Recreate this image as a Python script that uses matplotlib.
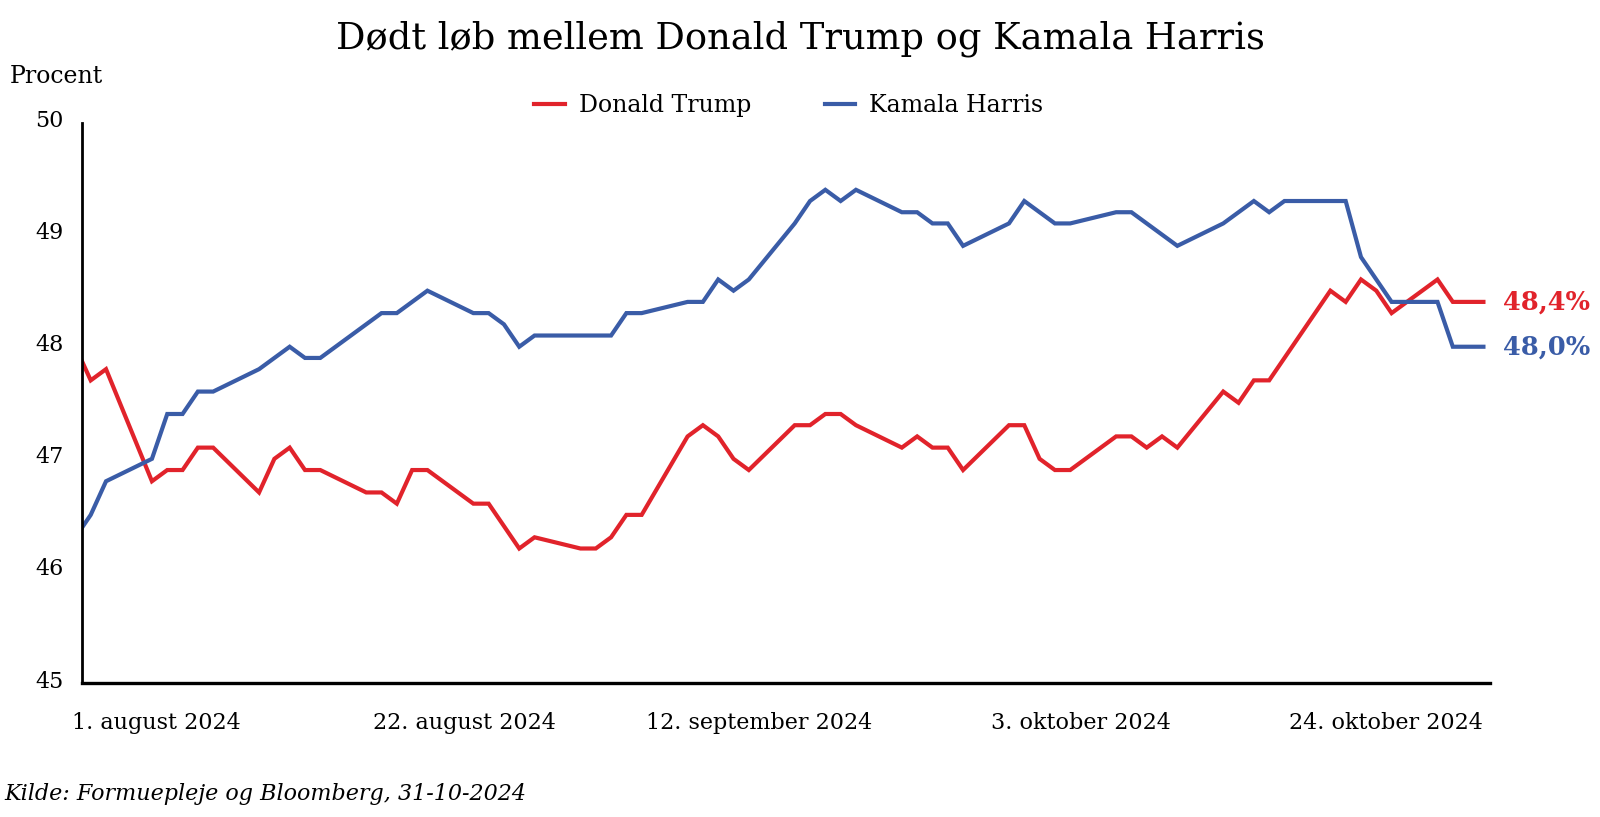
import numpy as np
import matplotlib
matplotlib.use("Agg")
import matplotlib.pyplot as plt
from matplotlib.transforms import ScaledTranslation

# observation index (one step per data point on the category axis) and poll share in %
trump_idx = [0, 1, 2, 5, 6, 7, 8, 9, 12, 13, 14, 15, 16, 19, 20, 21, 22, 23, 26, 27,
             29, 30, 33, 34, 35, 36, 37, 40, 41, 42, 43, 44, 47, 48, 49, 50, 51, 54,
             55, 56, 57, 58, 61, 62, 63, 64, 65, 68, 69, 70, 71, 72, 75, 76, 77, 78,
             82, 83, 84, 85, 86, 89, 90, 92]
trump_val = [48.0, 47.7, 47.8, 46.8, 46.9, 46.9, 47.1, 47.1, 46.7, 47.0, 47.1, 46.9,
             46.9, 46.7, 46.7, 46.6, 46.9, 46.9, 46.6, 46.6, 46.2, 46.3, 46.2, 46.2,
             46.3, 46.5, 46.5, 47.2, 47.3, 47.2, 47.0, 46.9, 47.3, 47.3, 47.4, 47.4,
             47.3, 47.1, 47.2, 47.1, 47.1, 46.9, 47.3, 47.3, 47.0, 46.9, 46.9, 47.2,
             47.2, 47.1, 47.2, 47.1, 47.6, 47.5, 47.7, 47.7, 48.5, 48.4, 48.6, 48.5,
             48.3, 48.6, 48.4, 48.4]

harris_idx = [0, 1, 2, 5, 6, 7, 8, 9, 12, 13, 14, 15, 16, 20, 21, 23, 26, 27, 28, 29,
              30, 35, 36, 37, 40, 41, 42, 43, 44, 47, 48, 49, 50, 51, 54, 55, 56, 57,
              58, 61, 62, 64, 65, 68, 69, 72, 75, 77, 78, 79, 83, 84, 86, 89, 90, 92]
harris_val = [46.3, 46.5, 46.8, 47.0, 47.4, 47.4, 47.6, 47.6, 47.8, 47.9, 48.0, 47.9,
              47.9, 48.3, 48.3, 48.5, 48.3, 48.3, 48.2, 48.0, 48.1, 48.1, 48.3, 48.3,
              48.4, 48.4, 48.6, 48.5, 48.6, 49.1, 49.3, 49.4, 49.3, 49.4, 49.2, 49.2,
              49.1, 49.1, 48.9, 49.1, 49.3, 49.1, 49.1, 49.2, 49.2, 48.9, 49.1, 49.3,
              49.2, 49.3, 49.3, 48.8, 48.4, 48.4, 48.0, 48.0]

tick_idx = [5.3, 25.4, 44.7, 65.7, 85.6]
tick_labels = ["1. august 2024", "22. august 2024", "12. september 2024",
               "3. oktober 2024", "24. oktober 2024"]

RED = "#e1232b"
BLUE = "#3a5ca7"
FONT = "DejaVu Serif"

plt.rcParams["font.family"] = FONT

fig = plt.figure(figsize=(16, 8.17), dpi=100)
ax = fig.add_axes([0.05125, 0.164, 0.88, 0.686])

ax.plot(trump_idx, trump_val, color=RED, lw=3.0, label="Donald Trump", solid_joinstyle="miter")
ax.plot(harris_idx, harris_val, color=BLUE, lw=3.0, label="Kamala Harris", solid_joinstyle="miter")

ax.set_xlim(0.43, 92.43)
ax.set_ylim(45, 50)
ax.set_yticks([45, 46, 47, 48, 49, 50])
ax.set_xticks(tick_idx)
ax.set_xticklabels(tick_labels)
ax.tick_params(axis="x", length=0, labelsize=16, pad=21)
ax.tick_params(axis="y", length=0, labelsize=16, pad=13)
# the y labels sit a little above their values in the original
shift = ScaledTranslation(0, 0.04, fig.dpi_scale_trans)
for lab in ax.get_yticklabels():
    lab.set_transform(lab.get_transform() + shift)

for side in ["top", "right"]:
    ax.spines[side].set_visible(False)
ax.spines["left"].set_linewidth(2.0)
ax.spines["bottom"].set_linewidth(2.4)

# end value labels
ax.text(93.25, trump_val[-1], "48,4%", color=RED, fontsize=18.5, fontweight="bold",
        va="center", ha="left", clip_on=False)
ax.text(93.25, harris_val[-1], "48,0%", color=BLUE, fontsize=18.5, fontweight="bold",
        va="center", ha="left", clip_on=False)

fig.text(0.5, 0.952, "Dødt løb mellem Donald Trump og Kamala Harris",
         ha="center", va="center", fontsize=26.5)
fig.text(0.006, 0.906, "Procent", ha="left", va="center", fontsize=17)
fig.text(0.003, 0.028, "Kilde: Formuepleje og Bloomberg, 31-10-2024",
         ha="left", va="center", fontsize=16, style="italic")

fig.legend(loc="center", bbox_to_anchor=(0.493, 0.871), ncol=2, frameon=False,
           fontsize=17, handlelength=1.3, handletextpad=0.6, columnspacing=3.1)

fig.savefig("out.png", dpi=100)
